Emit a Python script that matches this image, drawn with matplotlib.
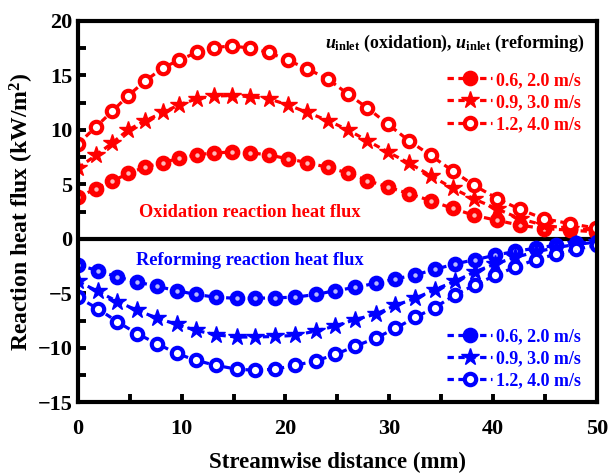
import matplotlib
matplotlib.use("Agg")
import matplotlib.pyplot as plt

plt.rcParams['font.family'] = ['Liberation Serif', 'DejaVu Serif']
plt.rcParams['font.weight'] = 'bold'
plt.rcParams['mathtext.fontset'] = 'custom'
plt.rcParams['mathtext.rm'] = 'Liberation Serif:bold'
plt.rcParams['mathtext.it'] = 'Liberation Serif:italic:bold'
plt.rcParams['mathtext.bf'] = 'Liberation Serif:bold'

# streamwise positions (mm)
x_ox = [0, 1.7, 3.3, 4.85, 6.5, 8.2, 9.75, 11.45, 13.1, 14.8, 16.6, 18.4, 20.2, 22.1,
        24.1, 26.0, 27.9, 29.9, 31.9, 34.0, 36.1, 38.2, 40.4, 42.6, 44.9, 47.4, 49.9]
x_ref = [0, 1.9, 3.8, 5.7, 7.6, 9.5, 11.4, 13.3, 15.3, 17.1, 19.0, 20.9, 22.9, 24.8,
         26.7, 28.7, 30.6, 32.5, 34.4, 36.3, 38.3, 40.2, 42.1, 44.1, 46.1, 48.0, 50.0]

labels = ['0.6, 2.0 m/s', '0.9, 3.0 m/s', '1.2, 4.0 m/s']

ox_06 = [3.8, 4.6, 5.3, 6.0, 6.6, 7.0, 7.4, 7.7, 7.9, 7.95, 7.9, 7.7, 7.35, 7.0,
         6.55, 6.05, 5.35, 4.75, 4.15, 3.5, 2.8, 2.15, 1.7, 1.25, 0.95, 0.8, 0.65]
ox_09 = [6.5, 7.65, 8.8, 10.0, 10.85, 11.6, 12.3, 12.85, 13.1, 13.15, 13.05, 12.85, 12.3, 11.6,
         10.85, 10.0, 9.0, 7.95, 6.95, 5.8, 4.65, 3.65, 2.75, 1.85, 1.25, 0.95, 0.8]
ox_12 = [8.7, 10.25, 11.7, 13.15, 14.5, 15.7, 16.4, 17.1, 17.55, 17.7, 17.5, 17.1, 16.4, 15.6,
         14.65, 13.3, 12.0, 10.5, 9.0, 7.65, 6.25, 4.9, 3.7, 2.7, 1.85, 1.4, 1.0]

ref_20 = [-2.4, -2.9, -3.5, -3.95, -4.35, -4.75, -5.1, -5.35, -5.45, -5.45, -5.4, -5.35, -5.1, -4.75,
          -4.45, -4.07, -3.67, -3.3, -2.8, -2.3, -1.9, -1.5, -1.15, -0.85, -0.6, -0.4, -0.3]
ref_30 = [-3.9, -4.8, -5.75, -6.55, -7.25, -7.85, -8.4, -8.8, -9.0, -9.0, -8.95, -8.85, -8.45, -8.0,
          -7.4, -6.9, -6.1, -5.45, -4.65, -3.9, -3.0, -2.3, -1.7, -1.2, -0.8, -0.5, -0.3]
ref_40 = [-5.35, -6.4, -7.6, -8.7, -9.6, -10.5, -11.15, -11.6, -11.95, -12.05, -11.95, -11.6, -11.2, -10.6,
          -9.85, -9.1, -8.2, -7.2, -6.3, -5.15, -4.2, -3.35, -2.6, -1.9, -1.4, -0.95, -0.6]

RED = '#ff0000'
BLUE = '#0000ff'

fig = plt.figure(figsize=(6.09, 4.74), dpi=100)
ax = fig.add_axes([0.128, 0.151, 0.852, 0.805])

line_kw = dict(linestyle=(0, (2.0, 1.4)), linewidth=2.3)

def draw(x, ys, color, hl):
    h1, = ax.plot(x, ys[0], marker='o', ms=10.3, color=color, mfc=color, mec=color, **line_kw)
    ax.plot(x, ys[0], linestyle='none', marker='o', ms=3.2, mfc=hl, mec='none')
    h2, = ax.plot(x, ys[1], marker='*', ms=13.0, color=color, mfc=color, mec=color, **line_kw)
    h3, = ax.plot(x, ys[2], marker='o', ms=8.2, color=color, mfc='white', mec=color, mew=3.0, **line_kw)
    return [h1, h2, h3]

hr = draw(x_ox, [ox_06, ox_09, ox_12], RED, '#ffb8b8')
hb = draw(x_ref, [ref_20, ref_30, ref_40], BLUE, '#b8b8ff')

ax.axhline(0, color='black', linewidth=3.0, zorder=1)

ax.set_xlim(0, 50)
ax.set_ylim(-15, 20)
ax.set_xticks([0, 10, 20, 30, 40, 50])
ax.set_xticks([5, 15, 25, 35, 45], minor=True)
ax.set_yticks([-15, -10, -5, 0, 5, 10, 15, 20])
ax.set_yticks([-12.5, -7.5, -2.5, 2.5, 7.5, 12.5, 17.5], minor=True)
ax.tick_params(which='major', direction='in', length=6, width=2.8, labelsize=16)
ax.tick_params(which='minor', direction='in', length=6, width=2.8)
ax.tick_params(axis='x', which='major', pad=12)
ax.tick_params(axis='y', which='major', pad=4)
for s in ax.spines.values():
    s.set_linewidth(3.0)
for lab in ax.get_xticklabels() + ax.get_yticklabels():
    lab.set_fontweight('bold')

ax.set_xlabel('Streamwise distance (mm)', fontsize=16.5, fontweight='bold', labelpad=9)
ax.set_ylabel('Reaction heat flux (kW/m$^2$)', fontsize=17, fontweight='bold', labelpad=1)

ax.text(0.977, 0.942, r'$u_{\mathbf{inlet}}$ (oxidation), $u_{\mathbf{inlet}}$ (reforming)',
        transform=ax.transAxes, ha='right', va='center', fontsize=12.9, fontweight='bold', color='black')
ax.text(16.6, 2.45, 'Oxidation reaction heat flux', ha='center', va='center', fontsize=13.2,
        fontweight='bold', color=RED)
ax.text(16.6, -2.0, 'Reforming reaction heat flux', ha='center', va='center', fontsize=13.2,
        fontweight='bold', color=BLUE)

leg_kw = dict(frameon=False, handlelength=2.5, handletextpad=0.2, labelspacing=0.28,
              borderaxespad=0.2, prop={'weight': 'bold', 'size': 13})
leg1 = ax.legend(hr, labels, loc='upper right', bbox_to_anchor=(0.99, 0.895), labelcolor=RED, **leg_kw)
ax.add_artist(leg1)
leg2 = ax.legend(hb, labels, loc='lower right', bbox_to_anchor=(0.99, 0.005), labelcolor=BLUE, **leg_kw)

fig.savefig('out.png', dpi=100)
